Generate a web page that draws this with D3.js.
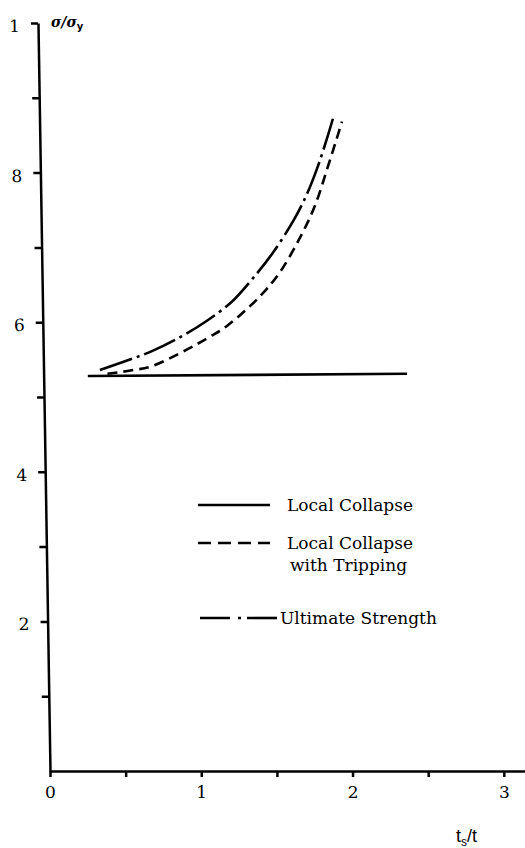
<!DOCTYPE html>
<html>
<head>
<meta charset="utf-8">
<script src="https://cdn.jsdelivr.net/npm/d3@7"></script>
<style>
  html, body { margin: 0; padding: 0; background: #fff; }
  svg { display: block; }
  .tick text { font-family: "DejaVu Serif", serif; font-size: 17px; fill: #000; }
</style>
</head>
<body>
<div class="chart"></div>
<script>
// values (x = ts/t, y = sigma/sigma_y)
const localX = [0.25, 2.36];
const localY = [0.528, 0.531];

const trippingX = [0.38, 0.55, 0.67, 0.91, 1.06, 1.17, 1.39, 1.52, 1.65, 1.75, 1.84, 1.93];
const trippingY = [0.531, 0.536, 0.541, 0.564, 0.581, 0.595, 0.635, 0.667, 0.712, 0.755, 0.81, 0.868];

const ultimateX = [0.33, 0.50, 0.67, 0.86, 1.03, 1.20, 1.33, 1.47, 1.61, 1.70, 1.77, 1.83, 1.87];
const ultimateY = [0.536, 0.548, 0.561, 0.580, 0.601, 0.627, 0.656, 0.692, 0.736, 0.772, 0.808, 0.845, 0.872];

const xTicks = [0, 0.5, 1, 1.5, 2, 2.5, 3];
const xTickLabels = ['0', '', '1', '', '2', '', '3'];
const yTicks = [0.1, 0.2, 0.3, 0.4, 0.5, 0.6, 0.7, 0.8, 0.9, 1.0];
const yTickLabels = ['', '2', '', '4', '', '6', '', '8', '', '1'];

const legendNames = ['Local Collapse', 'Local Collapse', 'Ultimate Strength'];

const width = 525, height = 848;

const svg = d3.select('.chart').append('svg')
  .attr('width', width)
  .attr('height', height);

const x = d3.scaleLinear().domain([0, 3.14]).range([50, 525]);
const y = d3.scaleLinear().domain([0, 1]).range([771, 23]);

const dashed = '10,6';
const dashDot = '34,5,3,5';

// x axis
const xAxis = svg.append('g')
  .attr('transform', 'translate(0,' + y(0) + ')')
  .call(d3.axisBottom(x)
    .tickValues(xTicks)
    .tickSize(6)
    .tickSizeOuter(0)
    .tickPadding(9)
    .tickFormat((d, i) => xTickLabels[i]));
xAxis.select('.domain').attr('stroke-width', 2.5);
xAxis.selectAll('.tick line').attr('stroke-width', 2.5);

// y axis, the scan leans a little so the axis is skewed
const yAxis = svg.append('g')
  .attr('transform', 'translate(37.6,0) skewX(0.92)')
  .call(d3.axisLeft(y)
    .tickValues(yTicks)
    .tickSize(7)
    .tickSizeOuter(0)
    .tickFormat((d, i) => yTickLabels[i]));
yAxis.select('.domain').attr('stroke-width', 2.5);
yAxis.selectAll('.tick line').attr('stroke-width', 2.5);
yAxis.selectAll('.tick text')
  .attr('text-anchor', 'middle')
  .attr('x', -23.5)
  .attr('dy', '0.5em');

// axis titles
const yTitle = svg.append('text')
  .attr('x', 51)
  .attr('y', 27)
  .attr('font-family', 'DejaVu Serif, serif')
  .attr('font-style', 'italic')
  .attr('font-weight', 'bold')
  .attr('font-size', 14);
yTitle.append('tspan').text('σ/σ');
yTitle.append('tspan')
  .attr('dy', 3)
  .attr('font-style', 'normal')
  .attr('font-family', 'DejaVu Sans, sans-serif')
  .attr('font-size', 10)
  .text('y');

const xTitle = svg.append('text')
  .attr('x', 456)
  .attr('y', 842)
  .attr('font-family', 'Liberation Sans, sans-serif')
  .attr('font-size', 18);
xTitle.append('tspan').text('t');
xTitle.append('tspan').attr('dy', 4).attr('font-size', 12).text('s');
xTitle.append('tspan').attr('dy', -4).text('/t');

// curves
const line = d3.line()
  .x(d => x(d[0]))
  .y(d => y(d[1]))
  .curve(d3.curveCatmullRom);

const series = [
  { xs: localX, ys: localY, dash: null },
  { xs: trippingX, ys: trippingY, dash: dashed },
  { xs: ultimateX, ys: ultimateY, dash: dashDot }
];

svg.append('g')
  .selectAll('path')
  .data(series)
  .enter().append('path')
  .attr('d', s => line(d3.zip(s.xs, s.ys)))
  .attr('fill', 'none')
  .attr('stroke', '#000')
  .attr('stroke-width', 2.6)
  .attr('stroke-dasharray', s => s.dash);

// legend
const legendRows = [
  { y: 505, x1: 198, x2: 270, dash: null },
  { y: 543, x1: 198, x2: 270, dash: '13,7' },
  { y: 618, x1: 200, x2: 277, dash: '30,8,3,6' }
];

const legend = svg.append('g')
  .selectAll('g')
  .data(legendRows)
  .enter().append('g');

legend.append('line')
  .attr('x1', d => d.x1)
  .attr('x2', d => d.x2)
  .attr('y1', d => d.y)
  .attr('y2', d => d.y)
  .attr('stroke', '#000')
  .attr('stroke-width', 2.6)
  .attr('stroke-dasharray', d => d.dash);

legend.append('text')
  .attr('x', (d, i) => i === 2 ? 280 : 287)
  .attr('y', d => d.y + 6)
  .attr('font-family', 'DejaVu Serif, serif')
  .attr('font-size', 17)
  .text((d, i) => legendNames[i]);

svg.append('text')
  .attr('x', 290)
  .attr('y', 571)
  .attr('font-family', 'DejaVu Serif, serif')
  .attr('font-size', 17)
  .text('with Tripping');
</script>
</body>
</html>
